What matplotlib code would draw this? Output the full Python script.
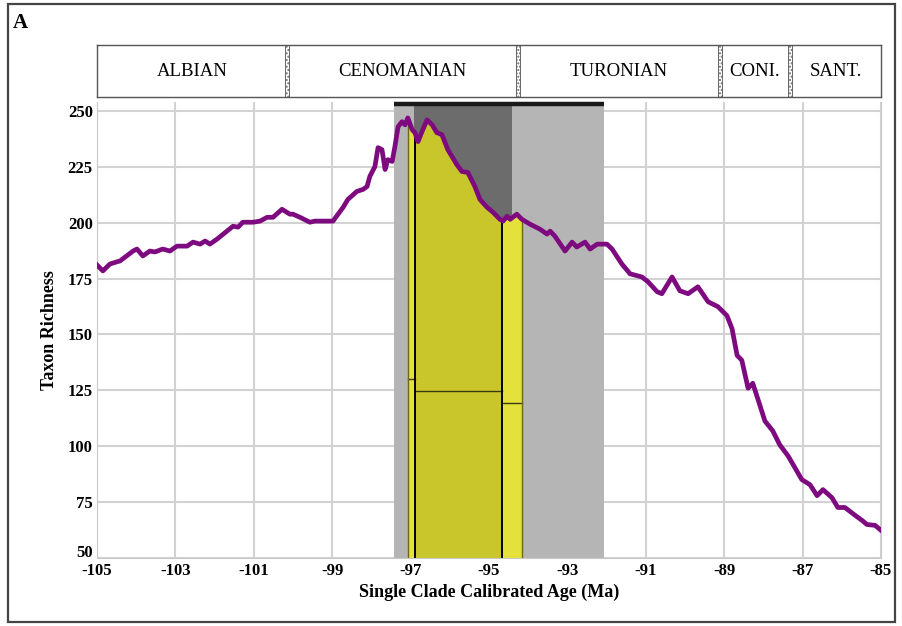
import numpy as np
import matplotlib.pyplot as plt
from matplotlib.patches import Rectangle
from matplotlib.transforms import ScaledTranslation

# richness curve, single clade calibrated ages (Ma)
age = [-105.00, -104.85, -104.67, -104.41, -104.08, -103.98, -103.83, -103.65,
       -103.52, -103.32, -103.14, -102.96, -102.70, -102.55, -102.37, -102.24,
       -102.12, -101.94, -101.53, -101.40, -101.28, -101.02, -100.84, -100.66,
       -100.51, -100.28, -100.08, -100.00, -99.82, -99.57, -99.44, -99.06,
       -98.98, -98.72, -98.60, -98.37, -98.21, -98.11, -98.04, -97.91,
       -97.83, -97.73, -97.65, -97.58, -97.47, -97.40, -97.32, -97.22,
       -97.14, -97.07, -96.96, -96.89, -96.81, -96.71, -96.58, -96.45,
       -96.33, -96.20, -96.05, -95.82, -95.69, -95.54, -95.36, -95.23,
       -95.05, -94.90, -94.72, -94.64, -94.54, -94.46, -94.29, -94.16,
       -93.95, -93.70, -93.52, -93.44, -93.32, -93.06, -92.88, -92.76,
       -92.55, -92.42, -92.24, -91.99, -91.86, -91.61, -91.40, -91.10,
       -90.94, -90.71, -90.59, -90.33, -90.13, -89.92, -89.67, -89.41,
       -89.16, -88.93, -88.80, -88.67, -88.55, -88.39, -88.27, -88.09,
       -87.96, -87.76, -87.58, -87.37, -87.02, -86.81, -86.63, -86.48,
       -86.25, -86.10, -85.92, -85.66, -85.48, -85.36, -85.15, -85.00]
richness = [181.1, 178.4, 181.5, 182.9, 187.3, 188.2, 185.1, 187.3,
            186.9, 188.2, 187.3, 189.5, 189.5, 191.3, 190.4, 191.8,
            190.4, 192.6, 198.4, 198.0, 200.2, 200.2, 200.7, 202.4,
            202.4, 206.0, 203.8, 203.8, 202.4, 200.2, 200.7, 200.7,
            200.7, 206.9, 210.4, 214.0, 214.9, 216.2, 220.7, 225.1,
            233.6, 232.7, 223.8, 228.2, 227.4, 234.0, 242.9, 245.2,
            243.8, 246.9, 241.6, 240.3, 236.3, 240.7, 246.0, 243.8,
            240.3, 239.4, 232.7, 226.0, 222.9, 222.5, 216.2, 210.4,
            206.9, 204.7, 201.5, 200.7, 202.9, 201.5, 203.8, 201.5,
            199.3, 197.1, 194.9, 196.2, 194.0, 187.3, 191.3, 189.1,
            191.3, 188.2, 190.4, 190.4, 188.2, 181.5, 177.1, 175.7,
            173.5, 169.1, 168.2, 175.7, 169.5, 168.2, 171.3, 164.6,
            162.4, 158.4, 152.6, 140.6, 138.4, 125.9, 128.1, 118.3,
            111.2, 106.8, 100.5, 95.6, 85.0, 82.7, 77.8, 80.5,
            76.9, 72.5, 72.5, 69.0, 66.7, 64.9, 64.5, 62.3]

# stage names and boundaries for the header strip
stages = ['ALBIAN', 'CENOMANIAN', 'TURONIAN', 'CONI.', 'SANT.']
stage_bounds = [-105.0, -100.15, -94.26, -89.11, -87.32, -85.0]

# shaded intervals
outer_band = (-97.42, -92.07)
inner_band = (-96.9, -94.4)
# yellow interval bars: (start, end, line level)
bars = [(-97.07, -96.89, 130.0), (-96.89, -94.67, 124.5), (-94.67, -94.16, 119.5)]
bar_colors = ['#e4e23a', '#c9c62c', '#e4e23a']

xticks = list(range(-105, -84, 2))
yticks = list(range(50, 251, 25))

plt.rcParams['font.family'] = ['Liberation Serif', 'DejaVu Serif']
plt.rcParams['axes.unicode_minus'] = False

fig = plt.figure(figsize=(9.03, 6.26), dpi=100)
fig.patches.append(Rectangle((0.009, 0.006), 0.982, 0.987, transform=fig.transFigure,
                             fill=False, edgecolor='#444444', linewidth=1.6))
fig.text(0.014, 0.955, 'A', fontsize=15, fontweight='bold')

ax = fig.add_axes([0.1074, 0.109, 0.8682, 0.728])
ax.set_xlim(-105, -85)
ax.set_ylim(50, 254)
ax.set_xticks(xticks)
ax.set_yticks(yticks)
ax.grid(True, color='#d2d2d2', linewidth=1.5)
ax.set_axisbelow(True)
for s in ax.spines.values():
    s.set_color('#c8c8c8')
ax.spines['top'].set_visible(False)
ax.tick_params(length=0, labelsize=12)
ax.tick_params(axis='x', pad=4)
ax.tick_params(axis='y', pad=3)
for lab in ax.get_xticklabels() + ax.get_yticklabels():
    lab.set_fontweight('bold')
# lift the bottom y label clear of the first x label
lab50 = ax.get_yticklabels()[0]
lab50.set_transform(lab50.get_transform() + ScaledTranslation(0, 5 / 72, fig.dpi_scale_trans))

ax.axvspan(*outer_band, ymax=(253 - 50) / 204, color='#b5b5b5', lw=0, zorder=1)
ax.axvspan(*inner_band, ymax=(253 - 50) / 204, color='#6c6c6c', lw=0, zorder=1.1)
ax.plot(outer_band, [253, 253], color='#1a1a1a', lw=3.2, solid_capstyle='butt',
        clip_on=False, zorder=3)

age_arr = np.array(age)
rich_arr = np.array(richness)
for (x0, x1, level), c in zip(bars, bar_colors):
    xs = np.linspace(x0, x1, 30)
    ys = np.interp(xs, age_arr, rich_arr)
    ax.fill_between(xs, 50, ys, color=c, lw=0, zorder=2)
    ax.plot([x0, x1], [level, level], color='#3a3a10', lw=1.0, zorder=2.2)
for x in [bars[0][1], bars[1][1]]:
    ax.plot([x, x], [50, np.interp(x, age_arr, rich_arr)], color='black', lw=1.4, zorder=2.3)
for x in [bars[0][0], bars[2][1]]:
    ax.plot([x, x], [50, np.interp(x, age_arr, rich_arr)], color='#6a6a10', lw=1.0, zorder=2.3)

ax.plot(age, richness, color='#7e0a80', lw=3.4, zorder=4, solid_joinstyle='round')

ax.set_xlabel('Single Clade Calibrated Age (Ma)', fontsize=13, fontweight='bold', labelpad=3)
ax.set_ylabel('Taxon Richness', fontsize=13, fontweight='bold', labelpad=7)

# stage header
hx = fig.add_axes([0.1074, 0.845, 0.8682, 0.083])
hx.set_xlim(-105, -85)
hx.set_ylim(0, 1)
hx.set_xticks([])
hx.set_yticks([])
for s in hx.spines.values():
    s.set_color('#555555')
    s.set_linewidth(1.0)
for i, name in enumerate(stages):
    mid = (stage_bounds[i] + stage_bounds[i + 1]) / 2
    hx.text(mid, 0.5, name, ha='center', va='center', fontsize=13.5)
for b in stage_bounds[1:-1]:
    hx.add_patch(Rectangle((b - 0.05, 0), 0.1, 1, facecolor='white', edgecolor='#666666',
                           hatch='.....', linewidth=0.7))

fig.savefig('out.png', dpi=100)
